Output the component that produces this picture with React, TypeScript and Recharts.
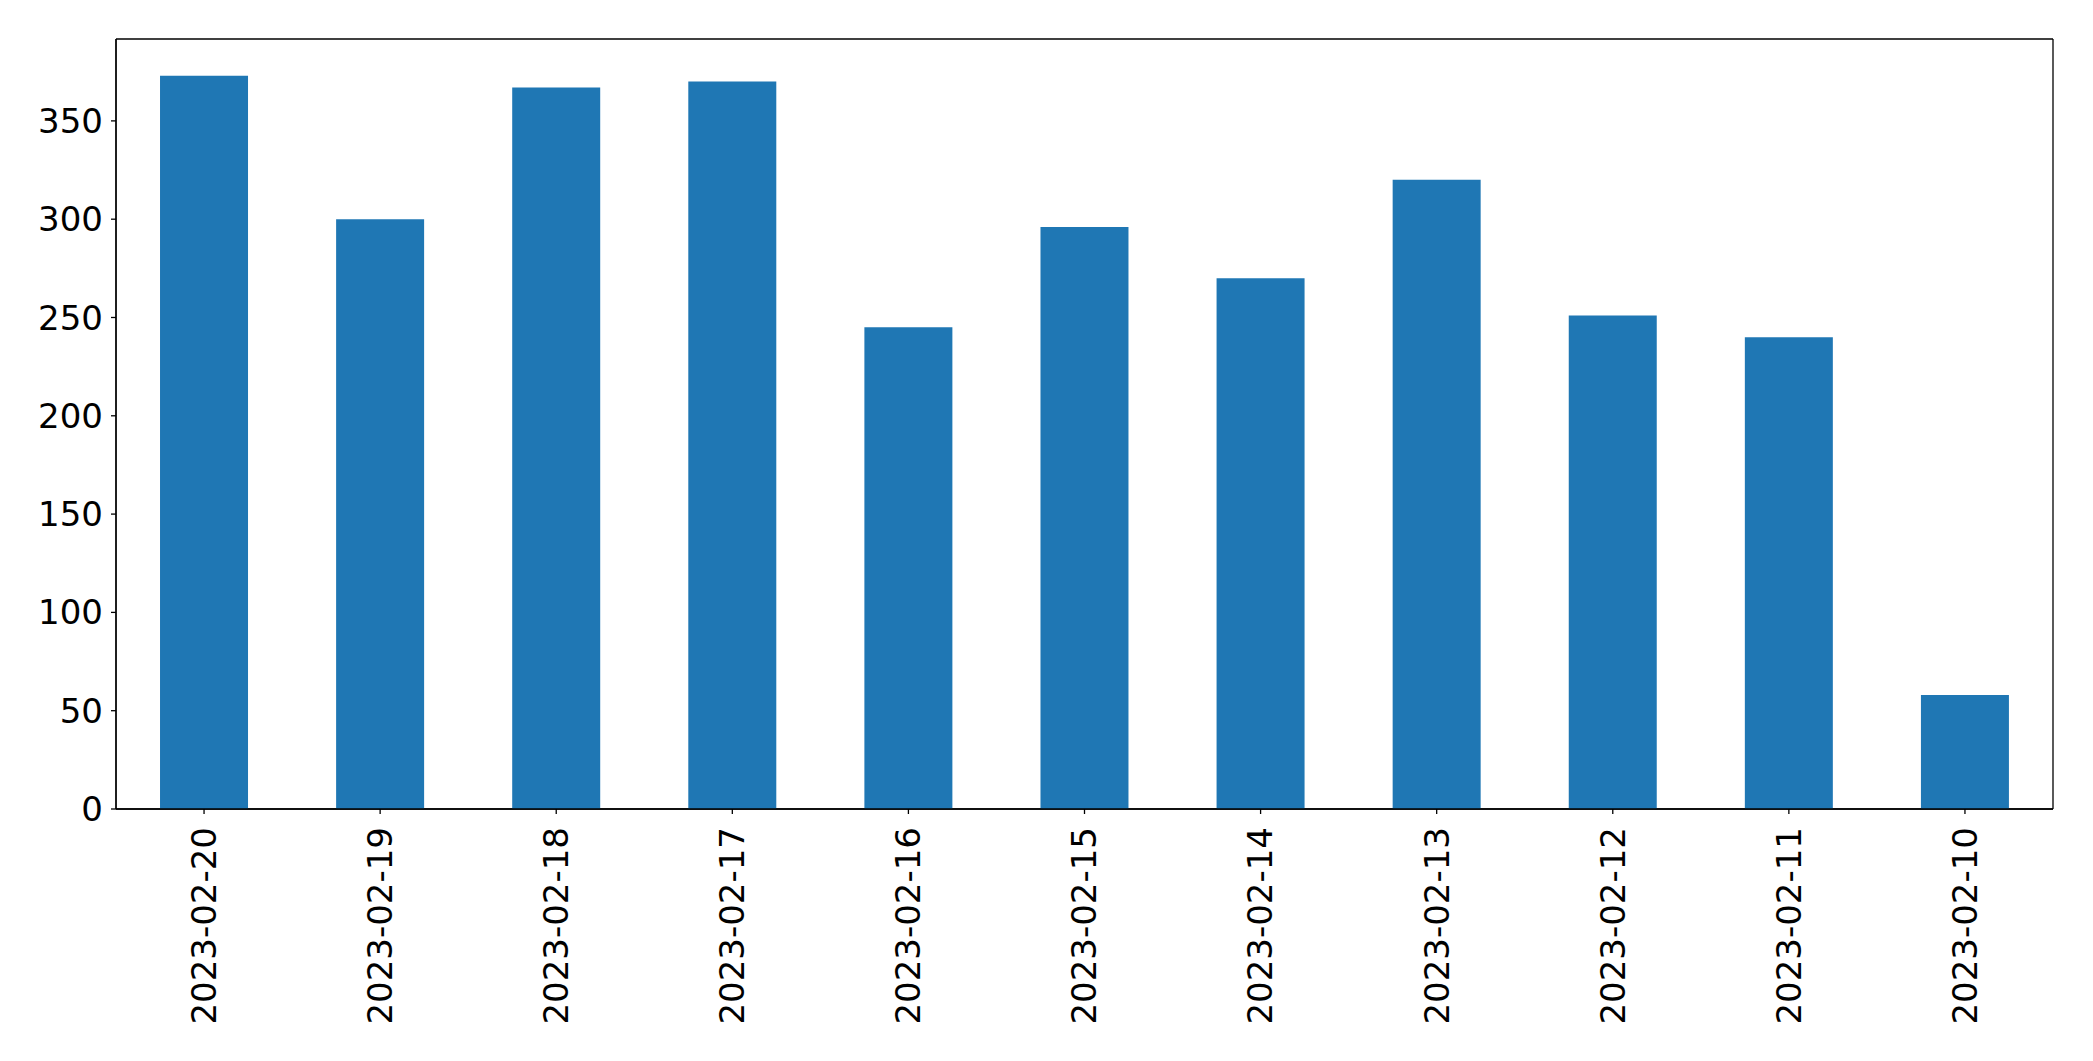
import { BarChart, Bar, XAxis, YAxis, CartesianGrid } from "recharts";

const DATES = [
  "2023-02-20", "2023-02-19", "2023-02-18", "2023-02-17", "2023-02-16", "2023-02-15",
  "2023-02-14", "2023-02-13", "2023-02-12", "2023-02-11", "2023-02-10",
];
const COUNTS = [373, 300, 367, 370, 245, 296, 270, 320, 251, 240, 58];
const Y_TICKS = [0, 50, 100, 150, 200, 250, 300, 350];

const FONT = "DejaVu Sans, sans-serif";
const FS = 34;
const data = DATES.map((d, i) => ({ date: d, count: COUNTS[i] }));

function DateTick(props: any) {
  const { x, y, payload } = props;
  return (
    <g transform={`translate(${x},${y})`}>
      <text transform="rotate(-90)" textAnchor="end" dy="0.35em" fontSize={FS} fontFamily={FONT} fill="#000">
        {payload.value}
      </text>
    </g>
  );
}

export default function App() {
  const top = Math.max(...COUNTS) * 1.05;
  return (
    <div style={{ position: "absolute", left: 0, top: 0, background: "#fff" }}>
      <BarChart
        width={2093}
        height={1061}
        data={data}
        margin={{ top: 39, right: 40, left: 0, bottom: 0 }}
        barCategoryGap="25%"
      >
        {/* frame around the plot area, like matplotlib's four spines */}
        <CartesianGrid
          stroke="#000"
          strokeWidth={1.3}
          horizontalCoordinatesGenerator={({ offset }: any) => [offset.top, offset.top + offset.height]}
          verticalCoordinatesGenerator={({ offset }: any) => [offset.left, offset.left + offset.width]}
        />
        <XAxis
          dataKey="date"
          interval={0}
          height={252}
          tickSize={5}
          tickMargin={13}
          tick={<DateTick />}
          axisLine={{ stroke: "#000", strokeWidth: 1.3 }}
          tickLine={{ stroke: "#000", strokeWidth: 1.3 }}
        />
        <YAxis
          domain={[0, top]}
          ticks={Y_TICKS}
          width={116}
          tickSize={5}
          tickMargin={8}
          tick={{ fontSize: FS, fontFamily: FONT, fill: "#000" }}
          axisLine={{ stroke: "#000", strokeWidth: 1.3 }}
          tickLine={{ stroke: "#000", strokeWidth: 1.3 }}
          allowDataOverflow
        />
        <Bar dataKey="count" fill="#1f77b4" isAnimationActive={false} />
      </BarChart>
    </div>
  );
}
